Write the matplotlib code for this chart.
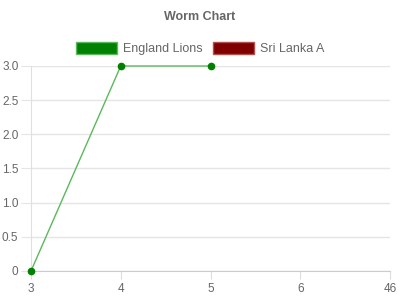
import matplotlib.pyplot as plt
from matplotlib.patches import Patch
from matplotlib.ticker import FuncFormatter

plt.rcParams['font.family'] = ['Liberation Sans', 'DejaVu Sans']

overs = ['3', '4', '5', '6', '46']
england_runs = [0, 3, 3]
sri_lanka_runs = []

fig = plt.figure(figsize=(4, 3), dpi=100)
ax = fig.add_axes([0.0775, 0.0967, 0.8975, 0.6833])

x = list(range(len(england_runs)))
ax.plot(x, england_runs, color='#5cb85c', lw=1, zorder=3, clip_on=False)
ax.plot(x, england_runs, 'o', color='#008000', ms=4.5, zorder=4, clip_on=False)

ax.set_xlim(0, len(overs) - 1)
ax.set_ylim(0, 3.0)
ax.set_xticks(range(len(overs)))
ax.set_xticklabels(overs)
ax.set_yticks([0, 0.5, 1.0, 1.5, 2.0, 2.5, 3.0])
ax.yaxis.set_major_formatter(FuncFormatter(lambda v, p: '0' if v == 0 else '%.1f' % v))
ax.grid(axis='y', color='#e5e5e5', lw=1)
ax.set_axisbelow(True)
for s in ['top', 'right']:
    ax.spines[s].set_visible(False)
ax.spines['left'].set_color('#e0e0e0')
ax.spines['bottom'].set_color('#cccccc')
ax.tick_params(axis='both', colors='#666666', labelsize=8.5)
ax.tick_params(axis='x', color='#dddddd', length=6, pad=3)
ax.tick_params(axis='y', color='#e5e5e5', length=7, pad=2)

fig.text(0.5, 0.943, 'Worm Chart', ha='center', va='center',
         fontsize=9, fontweight='bold', color='#666666')

handles = [Patch(facecolor='#008000', edgecolor='#5cb85c', label='England Lions'),
           Patch(facecolor='#800000', edgecolor='#b05050', label='Sri Lanka A')]
fig.legend(handles=handles, loc='center', bbox_to_anchor=(0.5, 0.837), ncol=2,
           frameon=False, fontsize=9, handlelength=3.3, handleheight=1.0,
           handletextpad=0.5, columnspacing=0.8, labelcolor='#666666')

fig.savefig('out.png', dpi=100)
